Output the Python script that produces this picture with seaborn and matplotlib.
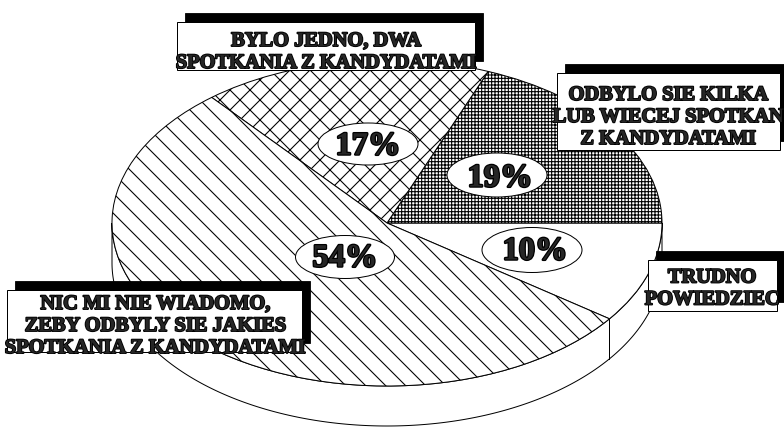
import numpy as np
import matplotlib
matplotlib.use("Agg")
import matplotlib.pyplot as plt
import matplotlib.patheffects as pe
from matplotlib.patches import Polygon, Rectangle, Ellipse
import seaborn as sns

# data, in drawing order (counter-clockwise from the start angle)
categories = [
    "TRUDNO\nPOWIEDZIEC",
    "ODBYLO SIE KILKA\nLUB WIECEJ SPOTKAN\nZ KANDYDATAMI",
    "BYLO JEDNO, DWA\nSPOTKANIA Z KANDYDATAMI",
    "NIC MI NIE WIADOMO,\nZEBY ODBYLY SIE JAKIES\nSPOTKANIA Z KANDYDATAMI",
]
values = [10, 19, 17, 54]
pct_labels = [f"{v}%" for v in values]

# layout / style (pixels of the 784x427 picture, y downwards)
W, H, DPI = 784, 427, 60
hatches = ["", "+++", "x", "\\"]
cx, cy, rx, ry, depth = 387, 223, 275, 163, 40
start_angle = -36
boxes = [(648, 260, 777, 311), (557, 73, 780, 150), (177, 22, 475, 70), (7, 290, 302, 352)]
box_text_xy = [(712, 286.5), (668, 115), (326, 50), (155, 324)]
pct_ellipses = [(532, 250, 100, 45), (497, 175, 100, 44), (368, 144, 100, 42), (345, 257, 99, 43)]
pct_text_xy = [(535, 248), (500, 175), (368, 143), (345, 255)]

sns.set_style("white")
plt.rcParams["font.family"] = ["Liberation Serif", "DejaVu Serif"]
plt.rcParams["hatch.linewidth"] = 1.3

fig = plt.figure(figsize=(W / DPI, H / DPI), dpi=DPI, facecolor="white")

# pie top face, squashed into an ellipse by the axes box
ax = fig.add_axes([(cx - rx) / W, 1 - (cy + ry) / H, 2 * rx / W, 2 * ry / H])
ax.pie(values, startangle=start_angle, counterclock=True, colors=["white"] * 4,
       hatch=hatches, wedgeprops=dict(edgecolor="black", linewidth=1.2))
ax.set_aspect("auto")
ax.set_xlim(-1, 1)
ax.set_ylim(-1, 1)
ax.axis("off")

# front wall of the "3d" pie
d = depth / ry
t = np.linspace(np.pi, 2 * np.pi, 300)
wall = np.vstack([np.column_stack([np.cos(t), np.sin(t)]),
                  np.column_stack([np.cos(t[::-1]), np.sin(t[::-1]) - d])])
ax.add_patch(Polygon(wall, closed=True, facecolor="white", edgecolor="black",
                     linewidth=1.2, clip_on=False, zorder=0.5))
bounds = (start_angle + np.cumsum([0] + values) * 3.6) % 360
for b in bounds:
    if 180 < b < 360:
        a = np.deg2rad(b)
        ax.plot([np.cos(a)] * 2, [np.sin(a), np.sin(a) - d], color="black",
                lw=1.2, clip_on=False, zorder=0.6)

# labels on top
ov = fig.add_axes([0, 0, 1, 1])
ov.set_xlim(0, W)
ov.set_ylim(H, 0)
ov.axis("off")

stroke = [pe.withStroke(linewidth=2.2, foreground="black")]
for label, (x0, y0, x1, y1), (tx, ty) in zip(categories, boxes, box_text_xy):
    ov.add_patch(Rectangle((x0 + 8, y0 - 9), x1 - x0, y1 - y0, facecolor="black",
                           edgecolor="black", clip_on=False))
    ov.add_patch(Rectangle((x0, y0), x1 - x0, y1 - y0, facecolor="white",
                           edgecolor="black", linewidth=1.2))
    lines = label.split("\n")
    n = len(lines)
    for i, line in enumerate(lines):
        ov.text(tx, ty + (i - (n - 1) / 2) * 22 + 7, line, ha="center", va="baseline",
                fontsize=24.5, fontweight="bold", path_effects=stroke)

pct_stroke = [pe.withStroke(linewidth=3, foreground="black")]
for txt, (ex, ey, ew, eh), (tx, ty) in zip(pct_labels, pct_ellipses, pct_text_xy):
    ov.add_patch(Ellipse((ex, ey), ew, eh, facecolor="white", edgecolor="black", linewidth=1.2))
    ov.text(tx, ty + 11.5, txt, ha="center", va="baseline", fontsize=39,
            fontweight="bold", path_effects=pct_stroke)

fig.savefig("out.png", dpi=DPI, facecolor="white")
